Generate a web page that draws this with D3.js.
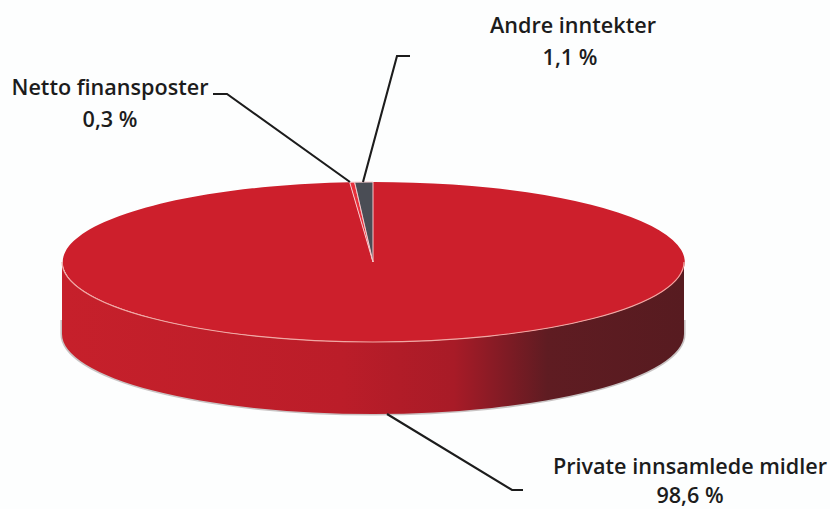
<!DOCTYPE html>
<html><head><meta charset="utf-8">
<script src="https://cdn.jsdelivr.net/npm/d3@7/dist/d3.min.js"></script>
<style>html,body{margin:0;padding:0;background:#fdfefe}svg{display:block}
text{font-family:"Open Sans","Noto Sans",sans-serif;font-weight:600;fill:#1c1c1c;text-anchor:middle}</style>
</head><body><svg width="830" height="509"></svg>
<script>
const categories = ["Private innsamlede midler", "Netto finansposter", "Andre inntekter"];
const values = [98.6, 0.3, 1.1];
const colors = ["#cd1f2c", "#e8303c", "#4a4d55"];

const W = 830, H = 509, cx = 373, cy = 262, rx = 311, ry = 80, depth = 72;
const svg = d3.select("svg").attr("viewBox", [0, 0, W, H]);
const fmt = v => d3.format(".1f")(v).replace(".", ",") + " %";

// label and leader layout, in the same order as categories
const labelX = [690, 110, 573], labelY = [474, 95, 33], labelGap = [29, 32, 32];
const leaders = [
  [[387, 414], [512, 490], [523, 490]],
  [[350, 182], [227, 94], [213, 94]],
  [[363, 182], [397, 56], [410, 56]]
];

const defs = svg.append("defs");
const grad = defs.append("linearGradient").attr("id", "wall")
  .attr("gradientUnits", "userSpaceOnUse").attr("x1", cx - rx).attr("x2", cx + rx).attr("y1", 0).attr("y2", 0);
[[0, "#c6202b"], [0.45, "#bb1d29"], [0.63, "#a81b27"], [0.72, "#7c1b24"], [0.78, "#5f1c22"], [1, "#571b20"]]
  .forEach(([o, c]) => grad.append("stop").attr("offset", o).attr("stop-color", c));

// projection compresses angles near the top of the ellipse, as the tilted 3D pie does
const warp = a => Math.atan2(Math.sin(a) * 0.85, Math.cos(a));
const unwrap = a => a < 0 ? a + 2 * Math.PI : a;

const arcs = d3.pie().sort(null)(values);
const arc = d3.arc().innerRadius(0).outerRadius(1);

// wall: lower half of the ellipse extruded downward
const xL = cx - rx, xR = cx + rx;
const wallD = `M${xR},${cy} A${rx},${ry} 0 0 1 ${xL},${cy} L${xL},${cy + depth} A${rx},${ry} 0 0 0 ${xR},${cy + depth} Z`;
const rimD = `M${xR},${cy} A${rx},${ry} 0 0 1 ${xL},${cy}`;
const shadowD = `M${xR},${cy + depth - 14} L${xR},${cy + depth} A${rx},${ry} 0 0 1 ${xL},${cy + depth} L${xL},${cy + depth - 14}`;

svg.append("path").attr("d", shadowD).attr("fill", "none").attr("stroke", "#c9c4c4").attr("stroke-width", 3.2);
svg.append("path").attr("d", wallD).attr("fill", "url(#wall)");

const face = svg.append("g").attr("transform", `translate(${cx},${cy}) scale(${rx},${ry})`);
face.selectAll("path").data(arcs).join("path")
  .attr("d", d => arc({ startAngle: unwrap(warp(d.startAngle)), endAngle: d.index === arcs.length - 1 ? 2 * Math.PI : unwrap(warp(d.endAngle)) }))
  .attr("fill", (d, i) => colors[i])
  .attr("stroke", (d, i) => i === 0 ? "none" : "#f6c9cc")
  .attr("stroke-width", 1)
  .attr("vector-effect", "non-scaling-stroke");

svg.append("path").attr("d", rimD).attr("fill", "none").attr("stroke", "#f0a8a4").attr("stroke-width", 1.1);

const line = d3.line();
svg.append("g").selectAll("path").data(leaders).join("path")
  .attr("d", line).attr("fill", "none").attr("stroke", "#1c1c1c").attr("stroke-width", 2.1);

const labels = svg.append("g").selectAll("g").data(categories).join("g");
labels.append("text").attr("x", (d, i) => labelX[i]).attr("y", (d, i) => labelY[i]).attr("font-size", 21.6).text(d => d);
labels.append("text").attr("x", (d, i) => labelX[i] - (i === 2 ? 3 : 0)).attr("y", (d, i) => labelY[i] + labelGap[i]).attr("font-size", 21.6).text((d, i) => fmt(values[i]));
</script></body></html>
